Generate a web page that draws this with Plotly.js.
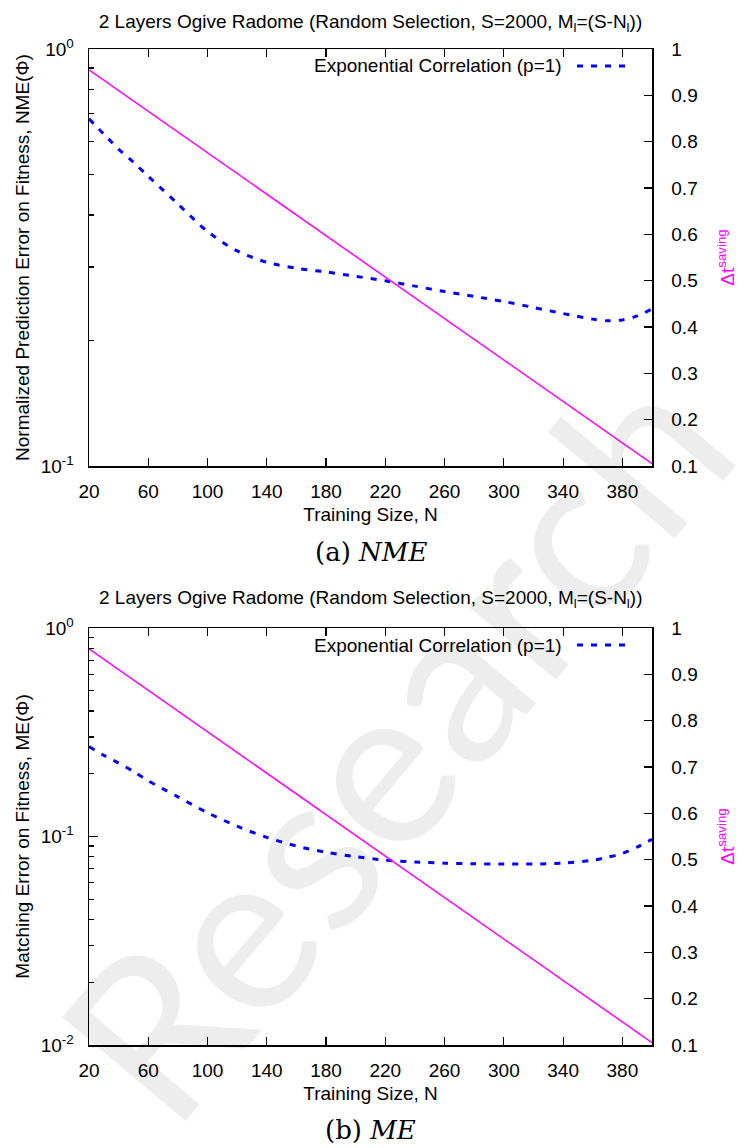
<!DOCTYPE html>
<html>
<head>
<meta charset="utf-8">
<script src="https://cdn.plot.ly/plotly-3.0.1.min.js"></script>
<style>html,body{margin:0;padding:0;background:#fff;}#chart{width:738px;height:1148px;}</style>
</head>
<body>
<div id="chart"></div>
<script>
// ---- data ----
const N_TICKS = [20, 60, 100, 140, 180, 220, 260, 300, 340, 380];
const N = [20, 30, 40, 50, 60, 80, 100, 120, 140, 160, 180, 200, 220, 240, 260, 280, 300, 320, 340, 360, 370, 380, 390, 400];
const NME = [0.68, 0.625, 0.575, 0.535, 0.495, 0.425, 0.365, 0.328, 0.308, 0.298, 0.292, 0.285, 0.278, 0.270, 0.262, 0.255, 0.248, 0.240, 0.232, 0.225, 0.223, 0.224, 0.229, 0.238];
const ME = [0.27, 0.245, 0.225, 0.205, 0.185, 0.155, 0.13, 0.112, 0.099, 0.090, 0.084, 0.080, 0.077, 0.0755, 0.0745, 0.074, 0.0738, 0.0738, 0.0745, 0.077, 0.0795, 0.083, 0.089, 0.097];
const N_SAVING = [20, 400];
const T_SAVING = [0.955, 0.105];
const Y2_TICKS = [0.1, 0.2, 0.3, 0.4, 0.5, 0.6, 0.7, 0.8, 0.9, 1];
const Y2_TEXT = ['0.1', '0.2', '0.3', '0.4', '0.5', '0.6', '0.7', '0.8', '0.9', '1'];
const LOG_TICKS_A = [0.1, 1];
const LOG_TEXT_A = ['10<sup>-1</sup>', '10<sup>0</sup>'];
const LOG_MINOR_A = [0.2, 0.3, 0.4, 0.5, 0.6, 0.7, 0.8, 0.9];
const LOG_TICKS_B = [0.01, 0.1, 1];
const LOG_TEXT_B = ['10<sup>-2</sup>', '10<sup>-1</sup>', '10<sup>0</sup>'];
const LOG_MINOR_B = [0.02, 0.03, 0.04, 0.05, 0.06, 0.07, 0.08, 0.09, 0.2, 0.3, 0.4, 0.5, 0.6, 0.7, 0.8, 0.9];
const SERIES_NAME = 'Exponential Correlation (p=1)';
const TITLE = '2 Layers Ogive Radome (Random Selection, S=2000, M<sub>l</sub>=(S-N<sub>l</sub>))';

// ---- layout geometry ----
const W = 738, H = 1148;
const FONT = 'Liberation Sans, Arial, sans-serif';
const FS = 19;
const px = v => v / W;
const py = v => 1 - v / H;
const XDOM = [px(89), px(652)];
const DOM_A = [py(466), py(49)];
const DOM_B = [py(1045), py(628)];
const BLUE = '#0000ff', MAG = '#ff00ff';

const traces = [
  {x: N, y: NME, xaxis: 'x', yaxis: 'y', mode: 'lines', name: SERIES_NAME,
   line: {color: BLUE, width: 3, dash: '6px,8px', shape: 'spline', smoothing: 0.8}, showlegend: false},
  {x: N_SAVING, y: T_SAVING, xaxis: 'x', yaxis: 'y2', mode: 'lines', name: 'Δt saving',
   line: {color: MAG, width: 1.5}, showlegend: false},
  {x: N, y: ME, xaxis: 'x2', yaxis: 'y3', mode: 'lines', name: SERIES_NAME,
   line: {color: BLUE, width: 3, dash: '6px,8px', shape: 'spline', smoothing: 0.8}, showlegend: false},
  {x: N_SAVING, y: T_SAVING, xaxis: 'x2', yaxis: 'y4', mode: 'lines', name: 'Δt saving',
   line: {color: MAG, width: 1.5}, showlegend: false}
];

const tickfont = {family: FONT, size: FS, color: '#000'};
function xAxis(anchor) {
  return {domain: XDOM, anchor: anchor, range: [20, 400], tickmode: 'array', tickvals: N_TICKS,
    ticks: 'inside', ticklen: 8, tickwidth: 1.2, tickcolor: '#000', showline: true, linecolor: '#000', linewidth: 1.5,
    mirror: 'ticks', showgrid: false, zeroline: false, tickfont: tickfont, ticklabelstandoff: 8,
    title: {text: 'Training Size, N', font: {family: FONT, size: FS, color: '#000'}, standoff: 6}};
}
function yLog(anchor, dom, range, tv, tt, minor, title) {
  return {domain: dom, anchor: anchor, type: 'log', range: range, tickmode: 'array', tickvals: tv, ticktext: tt,
    ticks: 'inside', ticklen: 9, tickwidth: 1.2, tickcolor: '#000', showline: true, linecolor: '#000', linewidth: 1.5,
    showgrid: false, zeroline: false, tickfont: tickfont, ticklabelstandoff: 10,
    minor: {tickmode: 'array', tickvals: minor, ticks: 'inside', ticklen: 4.5, tickwidth: 1.2, tickcolor: '#000', showgrid: false},
    title: {text: title, font: {family: FONT, size: FS, color: '#000'}, standoff: 6}};
}
function yRight(anchor, over, dom) {
  return {domain: dom, anchor: anchor, overlaying: over, side: 'right', range: [0.1, 1], tickmode: 'array',
    tickvals: Y2_TICKS, ticktext: Y2_TEXT, ticks: 'inside', ticklen: 8, tickwidth: 1.2, tickcolor: '#000',
    showline: true, linecolor: '#000', linewidth: 1.5, showgrid: false, zeroline: false, tickfont: tickfont,
    ticklabelstandoff: 14,
    title: {text: 'Δt<sup>saving</sup>', font: {family: FONT, size: FS, color: MAG}, standoff: 28}};
}

const CAPFONT = {family: 'DejaVu Serif, serif', size: 26, color: '#000'};
const layout = {
  width: W, height: H, margin: {l: 0, r: 0, t: 0, b: 0}, paper_bgcolor: '#fff', plot_bgcolor: '#fff',
  showlegend: false,
  title: {text: TITLE, font: {family: FONT, size: FS, color: '#000'}, x: (px(89) + px(652)) / 2, xanchor: 'center', y: py(21), yanchor: 'middle'},
  xaxis: xAxis('y'),
  yaxis: yLog('x', DOM_A, [-1, 0], LOG_TICKS_A, LOG_TEXT_A, LOG_MINOR_A, 'Normalized Prediction Error on Fitness, NME(Φ)'),
  yaxis2: yRight('x', 'y', DOM_A),
  xaxis2: xAxis('y3'),
  yaxis3: yLog('x2', DOM_B, [-2, 0], LOG_TICKS_B, LOG_TEXT_B, LOG_MINOR_B, 'Matching Error on Fitness, ME(Φ)'),
  yaxis4: yRight('x2', 'y3', DOM_B),
  annotations: [
    {text: 'Research', xref: 'paper', yref: 'paper', x: px(392), y: py(740), showarrow: false, textangle: -50,
     font: {family: 'Lato, Open Sans, sans-serif', size: 225, color: 'rgba(0,0,0,0.07)', weight: 'normal'}},
    {text: TITLE, xref: 'paper', yref: 'paper', x: (px(89) + px(652)) / 2, y: py(599), xanchor: 'center', yanchor: 'middle',
     showarrow: false, font: {family: FONT, size: FS, color: '#000'}},
    {text: SERIES_NAME, xref: 'paper', yref: 'paper', x: px(564), y: py(66), xanchor: 'right', yanchor: 'middle',
     showarrow: false, font: {family: FONT, size: FS, color: '#000'}},
    {text: SERIES_NAME, xref: 'paper', yref: 'paper', x: px(564), y: py(645), xanchor: 'right', yanchor: 'middle',
     showarrow: false, font: {family: FONT, size: FS, color: '#000'}},
    {text: '(a)\u00a0<i>NME</i>', xref: 'paper', yref: 'paper', x: (px(89) + px(652)) / 2, y: py(552), xanchor: 'center', yanchor: 'middle',
     showarrow: false, font: CAPFONT},
    {text: '(b)\u00a0<i>ME</i>', xref: 'paper', yref: 'paper', x: (px(89) + px(652)) / 2, y: py(1130), xanchor: 'center', yanchor: 'middle',
     showarrow: false, font: CAPFONT}
  ],
  shapes: [
    {type: 'line', xref: 'paper', yref: 'paper', x0: px(577), x1: px(629), y0: py(66), y1: py(66),
     line: {color: BLUE, width: 3, dash: '6px,8px'}},
    {type: 'line', xref: 'paper', yref: 'paper', x0: px(577), x1: px(629), y0: py(645), y1: py(645),
     line: {color: BLUE, width: 3, dash: '6px,8px'}}
  ]
};

Plotly.newPlot('chart', traces, layout, {staticPlot: true, displayModeBar: false});
</script>
</body>
</html>
